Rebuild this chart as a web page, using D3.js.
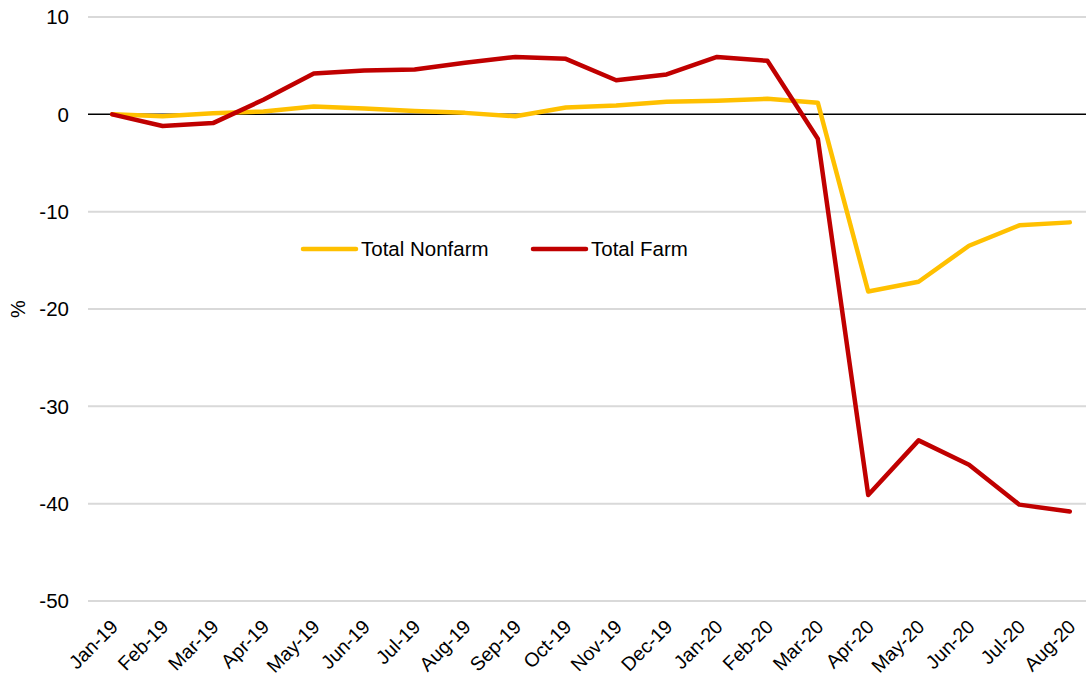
<!DOCTYPE html>
<html>
<head>
    <meta charset="utf-8">
    <script src="https://d3js.org/d3.v7.min.js"></script>
    <style>
        body { margin: 0; background: #fff; }
        text { font-family: "Liberation Sans", Arial, sans-serif; fill: #000; }
    </style>
</head>
<body>
    <script>
        var months = ["Jan-19", "Feb-19", "Mar-19", "Apr-19", "May-19", "Jun-19", "Jul-19", "Aug-19",
            "Sep-19", "Oct-19", "Nov-19", "Dec-19", "Jan-20", "Feb-20", "Mar-20", "Apr-20",
            "May-20", "Jun-20", "Jul-20", "Aug-20"];

        var nonfarm = [0, -0.2, 0.1, 0.3, 0.8, 0.6, 0.35, 0.15, -0.2, 0.7, 0.9, 1.3, 1.4, 1.6, 1.2,
            -18.2, -17.2, -13.5, -11.4, -11.1];

        var farm = [0, -1.2, -0.9, 1.5, 4.2, 4.5, 4.6, 5.3, 5.9, 5.7, 3.5, 4.1, 5.9, 5.5, -2.5,
            -39.1, -33.5, -36.0, -40.1, -40.8];

        var yTicks = [10, 0, -10, -20, -30, -40, -50];

        var series = [
            {name: "Total Nonfarm", values: nonfarm, color: "#FFC000"},
            {name: "Total Farm", values: farm, color: "#C00000"}
        ];

        var width = 1086, height = 679;

        var svg = d3.select("body").append("svg")
            .attr("width", width)
            .attr("height", height);

        var x = d3.scaleBand()
            .domain(months)
            .range([87, 1095]);

        var y = d3.scaleLinear()
            .domain([-50, 10])
            .range([601, 17]);

        var cx = d => x(d) + x.bandwidth() / 2;

        // gridlines
        svg.append("g")
            .selectAll("line")
            .data(yTicks.filter(d => d !== 0))
            .enter().append("line")
            .attr("x1", 88)
            .attr("x2", width)
            .attr("y1", d => y(d))
            .attr("y2", d => y(d))
            .style("stroke", "#d9d9d9")
            .style("stroke-width", 2);

        // zero line
        svg.append("line")
            .attr("x1", 88)
            .attr("x2", width)
            .attr("y1", y(0))
            .attr("y2", y(0))
            .style("stroke", "#000")
            .style("stroke-width", 1.5);

        // y labels
        svg.append("g")
            .selectAll("text")
            .data(yTicks)
            .enter().append("text")
            .attr("x", 69)
            .attr("y", d => y(d))
            .attr("dy", "0.35em")
            .attr("text-anchor", "end")
            .style("font-size", "20.5px")
            .text(d => d);

        svg.append("text")
            .attr("transform", "translate(25," + y(-20) + ") rotate(-90)")
            .attr("text-anchor", "middle")
            .style("font-size", "20px")
            .text("%");

        // x labels
        svg.append("g")
            .selectAll("text")
            .data(months)
            .enter().append("text")
            .attr("transform", d => "translate(" + (cx(d) + 7) + ",628) rotate(-45)")
            .attr("text-anchor", "end")
            .style("font-size", "19.5px")
            .text(d => d);

        var line = d3.line()
            .x((d, i) => cx(months[i]))
            .y(d => y(d));

        svg.append("g")
            .selectAll("path")
            .data(series)
            .enter().append("path")
            .attr("d", d => line(d.values))
            .style("fill", "none")
            .style("stroke", d => d.color)
            .style("stroke-width", 4.5)
            .style("stroke-linejoin", "round")
            .style("stroke-linecap", "round");

        // legend
        var legendX = [301, 531];
        var legend = svg.append("g")
            .selectAll("g")
            .data(series)
            .enter().append("g")
            .attr("transform", (d, i) => "translate(" + legendX[i] + ",249)");

        legend.append("line")
            .attr("x1", 2)
            .attr("x2", 55)
            .style("stroke", d => d.color)
            .style("stroke-width", 4.5)
            .style("stroke-linecap", "round");

        legend.append("text")
            .attr("x", 60)
            .attr("dy", "0.35em")
            .style("font-size", "20.5px")
            .text(d => d.name);
    </script>
</body>
</html>
